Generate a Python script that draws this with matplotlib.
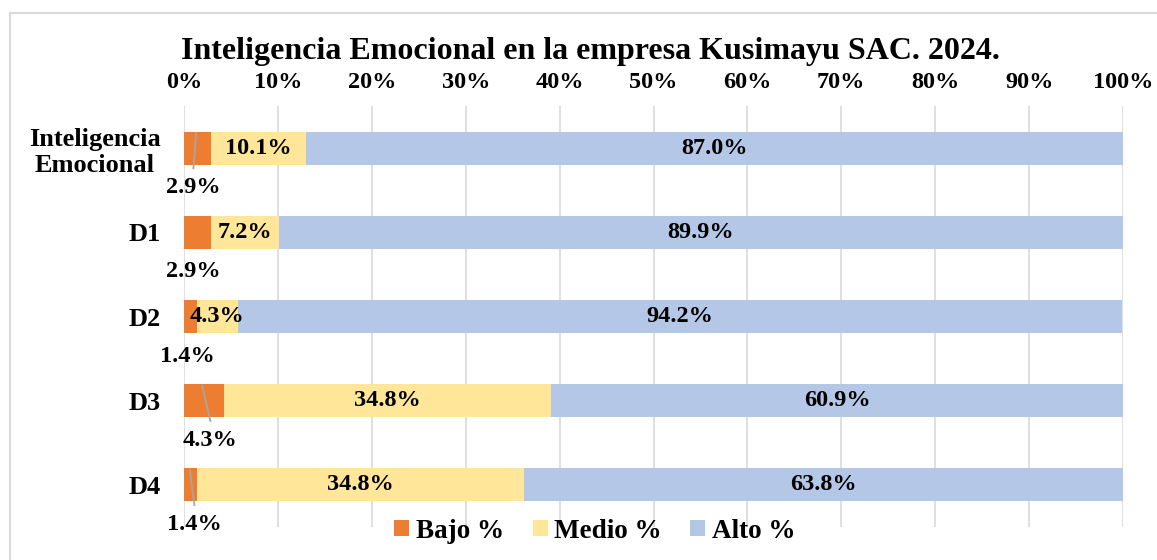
import matplotlib
matplotlib.use("Agg")
import matplotlib.pyplot as plt
from matplotlib.patches import Rectangle
from matplotlib.ticker import FuncFormatter

categories = ["Inteligencia\nEmocional", "D1", "D2", "D3", "D4"]
bajo = [2.9, 2.9, 1.4, 4.3, 1.4]
medio = [10.1, 7.2, 4.3, 34.8, 34.8]
alto = [87.0, 89.9, 94.2, 60.9, 63.8]
series_names = ["Bajo %", "Medio %", "Alto %"]
colors = ["#ED7D31", "#FFE699", "#B4C7E7"]
title = "Inteligencia Emocional en la empresa Kusimayu SAC. 2024."

plt.rcParams['font.family'] = ['Liberation Serif', 'DejaVu Serif']
plt.rcParams['font.weight'] = 'bold'

W, H = 1157, 560
fig = plt.figure(figsize=(W/100, H/100), dpi=100)
fig.patches.append(Rectangle((10/W, -0.1), 1.2, 1.1 - 13/H, transform=fig.transFigure,
                             fill=False, edgecolor="#d9d9d9", linewidth=1.5))

ax = fig.add_axes([184/W, 1 - 527/H, (1123-184)/W, (527-106)/H])
y = list(range(len(categories)))
h = 0.39
left_m = [b for b in bajo]
left_a = [b + m for b, m in zip(bajo, medio)]
ax.barh(y, bajo, height=h, color=colors[0], label=series_names[0], zorder=3)
ax.barh(y, medio, left=left_m, height=h, color=colors[1], label=series_names[1], zorder=3)
ax.barh(y, alto, left=left_a, height=h, color=colors[2], label=series_names[2], zorder=3)

ax.set_xlim(0, 100)
ax.set_ylim(4.5, -0.5)
ax.set_yticks(y)
ax.set_yticklabels(categories, fontsize=19, fontweight='bold', linespacing=1.2,
                   multialignment='center')
ax.set_xticks(range(0, 101, 10))
ax.xaxis.set_major_formatter(FuncFormatter(lambda v, p: f"{int(v)}%"))
ax.xaxis.tick_top()
ax.tick_params(axis='x', length=0, pad=9.5, labelsize=17.5)
ax.tick_params(axis='y', length=0, pad=17)
for lab in ax.get_xticklabels():
    lab.set_fontweight('bold')
ax.grid(axis='x', color="#d9d9d9", linewidth=1.2, zorder=0)
for s in ax.spines.values():
    s.set_visible(False)

for i in y:
    ax.text(left_m[i] + medio[i]/2, i, f"{medio[i]:.1f}%", ha='center', va='center',
            fontsize=17.5, fontweight='bold', zorder=5)
    ax.text(left_a[i] + alto[i]/2, i, f"{alto[i]:.1f}%", ha='center', va='center',
            fontsize=17.5, fontweight='bold', zorder=5)

# Bajo labels below bars with leader lines
lab_dx = [1.0, 1.0, 0.4, 2.8, 1.1]
lines = [True, False, False, True, True]
for i in y:
    lx = lab_dx[i]
    ax.text(lx, i + 0.47, f"{bajo[i]:.1f}%", ha='center', va='center',
            fontsize=17.5, fontweight='bold', zorder=5)
    if lines[i]:
        x0 = bajo[i] * 0.45
        ax.plot([x0, lx], [i - 0.18, i + 0.24], color="#a6a6a6", linewidth=1.3, zorder=4)

fig.text(590/W, 1 - 51/H, title, ha='center', va='center', fontsize=23, fontweight='bold')

fig.legend(loc='center', bbox_to_anchor=(595/W, 1 - 531/H), ncol=3, frameon=False,
           prop={'size': 19.5, 'weight': 'bold'}, handlelength=0.55, handleheight=0.55,
           handletextpad=0.25, columnspacing=1.05)

fig.savefig("out.png", dpi=100)
